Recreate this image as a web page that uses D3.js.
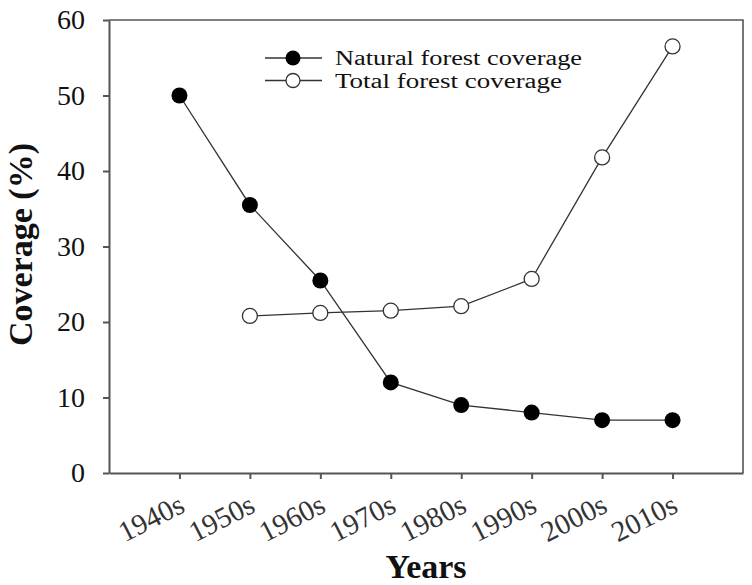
<!DOCTYPE html>
<html>
<head>
<meta charset="utf-8">
<script src="https://cdn.jsdelivr.net/npm/d3@7"></script>
<style>
  body { margin: 0; background: #fff; }
  text { font-family: "Liberation Serif", "Times New Roman", serif; fill: #111; }
</style>
</head>
<body>
<script>
const decades = ["1940s", "1950s", "1960s", "1970s", "1980s", "1990s", "2000s", "2010s"];
const naturalCoverage = [50, 35.5, 25.5, 12, 9, 8, 7, 7];
const totalCoverage = [null, 20.8, 21.2, 21.5, 22.1, 25.7, 41.8, 56.5];
const yTicks = [0, 10, 20, 30, 40, 50, 60];
const seriesNames = ["Natural forest coverage", "Total forest coverage"];

const margin = {top: 20, right: 9, bottom: 112, left: 109},
    width = 752 - margin.left - margin.right,
    height = 585 - margin.top - margin.bottom;

const svg = d3.select("body")
  .append("svg")
    .attr("width", 752)
    .attr("height", 585)
  .append("g")
    .attr("transform", "translate(" + margin.left + "," + margin.top + ")");

const x = d3.scalePoint()
    .domain(decades)
    .range([0, width])
    .padding(1);

const y = d3.scaleLinear()
    .domain([0, 60])
    .range([height, 0]);

// frame (top + right)
svg.append("path")
    .attr("d", "M0,0H" + width + "V" + height)
    .attr("fill", "none")
    .attr("stroke", "#555")
    .attr("stroke-width", 1.6);

// y axis
const yAxis = svg.append("g")
    .call(d3.axisLeft(y).tickValues(yTicks).tickSize(6).tickSizeOuter(0).tickPadding(18));
yAxis.select(".domain").attr("stroke", "#555").attr("stroke-width", 2);
yAxis.selectAll(".tick line").attr("stroke", "#555").attr("stroke-width", 2);
yAxis.selectAll(".tick text")
    .style("font-family", "Liberation Serif")
    .style("font-size", "28px")
    .attr("fill", "#111");

// x axis
const xAxis = svg.append("g")
    .attr("transform", "translate(0," + height + ")")
    .call(d3.axisBottom(x).tickSize(6).tickSizeOuter(0).tickFormat(""));
xAxis.select(".domain").attr("stroke", "#555").attr("stroke-width", 2);
xAxis.selectAll(".tick line").attr("stroke", "#555").attr("stroke-width", 2);

svg.append("g").selectAll("text")
  .data(decades)
  .enter()
  .append("text")
    .attr("transform", d => "translate(" + (x(d) + 7) + "," + (height + 38) + ") rotate(-27)")
    .attr("text-anchor", "end")
    .style("font-size", "29px")
    .style("fill", "#333")
    .text(d => d);

// axis titles
svg.append("text")
    .attr("x", width / 2)
    .attr("y", height + 105)
    .attr("text-anchor", "middle")
    .style("font-size", "34px")
    .style("font-weight", "bold")
    .text("Years");

svg.append("text")
    .attr("transform", "translate(" + (32 - margin.left) + "," + (height / 2 - 2) + ") rotate(-90)")
    .attr("text-anchor", "middle")
    .style("font-size", "34px")
    .style("font-weight", "bold")
    .text("Coverage (%)");

// lines
const line = d3.line()
    .defined(d => d.v != null)
    .x(d => x(d.k))
    .y(d => y(d.v));

const natural = decades.map((k, i) => ({k: k, v: naturalCoverage[i]}));
const total = decades.map((k, i) => ({k: k, v: totalCoverage[i]}));

[natural, total].forEach(s => {
  svg.append("path")
    .datum(s)
    .attr("d", line)
    .attr("fill", "none")
    .attr("stroke", "#333")
    .attr("stroke-width", 1.3);
});

svg.selectAll(".nat")
  .data(natural)
  .enter()
  .append("circle")
    .attr("cx", d => x(d.k))
    .attr("cy", d => y(d.v))
    .attr("r", 8)
    .attr("fill", "#000");

svg.selectAll(".tot")
  .data(total.filter(d => d.v != null))
  .enter()
  .append("circle")
    .attr("cx", d => x(d.k))
    .attr("cy", d => y(d.v))
    .attr("r", 7.5)
    .attr("fill", "#fff")
    .attr("stroke", "#333")
    .attr("stroke-width", 1.3);

// legend
const legendWidths = [247, 227];
const legend = svg.append("g")
    .attr("transform", "translate(" + (265 - margin.left) + "," + (58 - margin.top) + ")");

seriesNames.forEach((name, i) => {
  const g = legend.append("g").attr("transform", "translate(0," + (i * 22.5) + ")");
  g.append("line")
    .attr("x1", 0).attr("x2", 57)
    .attr("stroke", "#333").attr("stroke-width", 1.3);
  g.append("circle")
    .attr("cx", 28).attr("r", i == 0 ? 7.5 : 7)
    .attr("fill", i == 0 ? "#000" : "#fff")
    .attr("stroke", "#333").attr("stroke-width", i == 0 ? 0 : 1.3);
  g.append("text")
    .attr("x", 70)
    .attr("y", 7)
    .attr("textLength", legendWidths[i])
    .attr("lengthAdjust", "spacingAndGlyphs")
    .style("font-size", "20px")
    .text(name);
});
</script>
</body>
</html>
